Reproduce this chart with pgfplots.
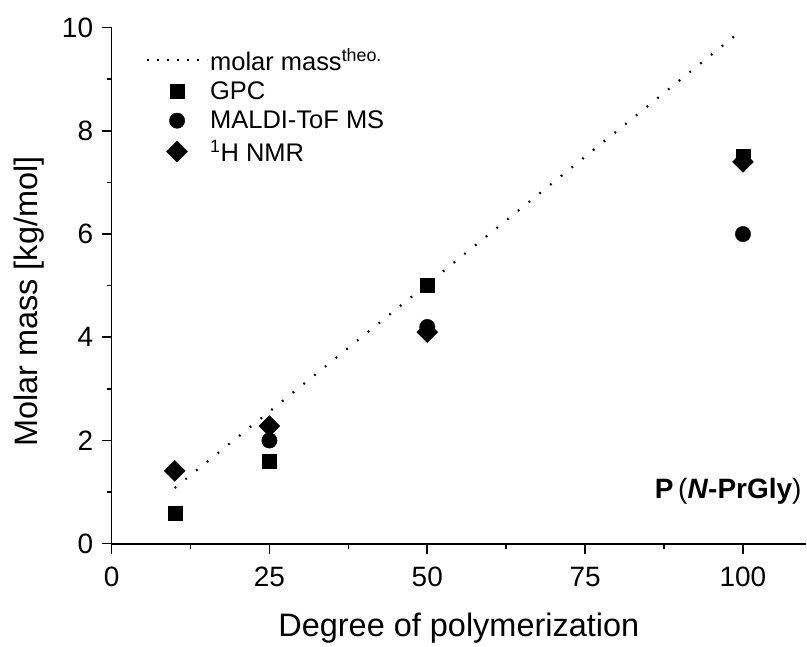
\documentclass[border=0pt]{standalone}
\usepackage{fontspec}
\setmainfont{Liberation Sans}
\usepackage{pgfplots}
\pgfplotsset{compat=1.18}
\pgfplotsset{
    marklegend/.style={legend image code/.code={%
        \draw[mark repeat=2,mark phase=2,##1] plot coordinates {(0bp,0bp) (30bp,0bp) (60bp,0bp)};}},
    dotlegend/.style={legend image code/.code={%
        \draw[black, line width=2.2bp, dash pattern=on 1.8bp off 8.2bp] (0bp,0bp) -- (60bp,0bp);}},
}

\begin{document}
\begin{tikzpicture}
\begin{axis}[
    scale only axis,
    width=695.3bp, height=516.6bp,
    xmin=0, xmax=110,
    ymin=0, ymax=10,
    axis lines=left,
    axis line style={-, line width=1.8bp},
    tick align=outside,
    tick pos=left,
    xtick={0,25,50,75,100},
    ytick={0,2,4,6,8,10},
    minor x tick num=1,
    minor y tick num=1,
    major tick length=10bp,
    minor tick length=5bp,
    every tick/.style={black, line width=1.6bp},
    /pgf/number format/assume math mode=true,
    tick label style={font=\fontsize{28bp}{31bp}\selectfont},
    xticklabel style={yshift=-10bp},
    yticklabel style={xshift=-5bp},
    xlabel={Degree of polymerization},
    ylabel={Molar mass [kg/mol]},
    label style={font=\fontsize{32.5bp}{36bp}\selectfont},
    xlabel style={at={(axis description cs:0.5,-0.1794)}, anchor=base},
    ylabel style={at={(axis description cs:-0.119,0.469)}, anchor=center},
    legend style={at={(0.045,0.968)}, anchor=north west, draw=none, fill=none,
        font=\fontsize{25.5bp}{28bp}\selectfont, row sep=6bp,
        nodes={inner sep=2bp}},
    legend cell align=left,
    clip=false,
]
\addplot[black, line width=2.2bp, dash pattern=on 1.8bp off 12bp, dotlegend]
    coordinates {(10,1.08) (25,2.56) (50,5.03) (100,9.97)};
\addlegendentry{molar mass\textsuperscript{theo.}}

\addplot[only marks, mark=square*, mark size=7bp, mark options={black, fill=black, line width=0.4bp}, marklegend]
    coordinates {(10,0.6) (25,1.6) (50,5.0) (100,7.5)};
\addlegendentry{GPC}

\addplot[only marks, mark=*, mark size=7.7bp, mark options={black, fill=black, line width=0.4bp}, marklegend]
    coordinates {(25,2.0) (50,4.2) (100,6.0)};
\addlegendentry{MALDI-ToF MS}

\addplot[only marks, mark=square*, mark size=7.4bp, mark options={black, fill=black, line width=0.4bp, rotate=45}, marklegend]
    coordinates {(10,1.41) (25,2.28) (50,4.1) (100,7.4)};
\addlegendentry{\textsuperscript{1}H NMR}

\node[anchor=east, inner sep=0pt, font=\fontsize{28bp}{32bp}\selectfont]
    at (axis cs:109.3,1.01) {\textbf{P}\,(\textbf{\textit{N}-PrGly})};
\end{axis}
\path (-111.7bp,-97.7bp) rectangle (695.3bp,544.3bp);
\end{tikzpicture}
\end{document}
